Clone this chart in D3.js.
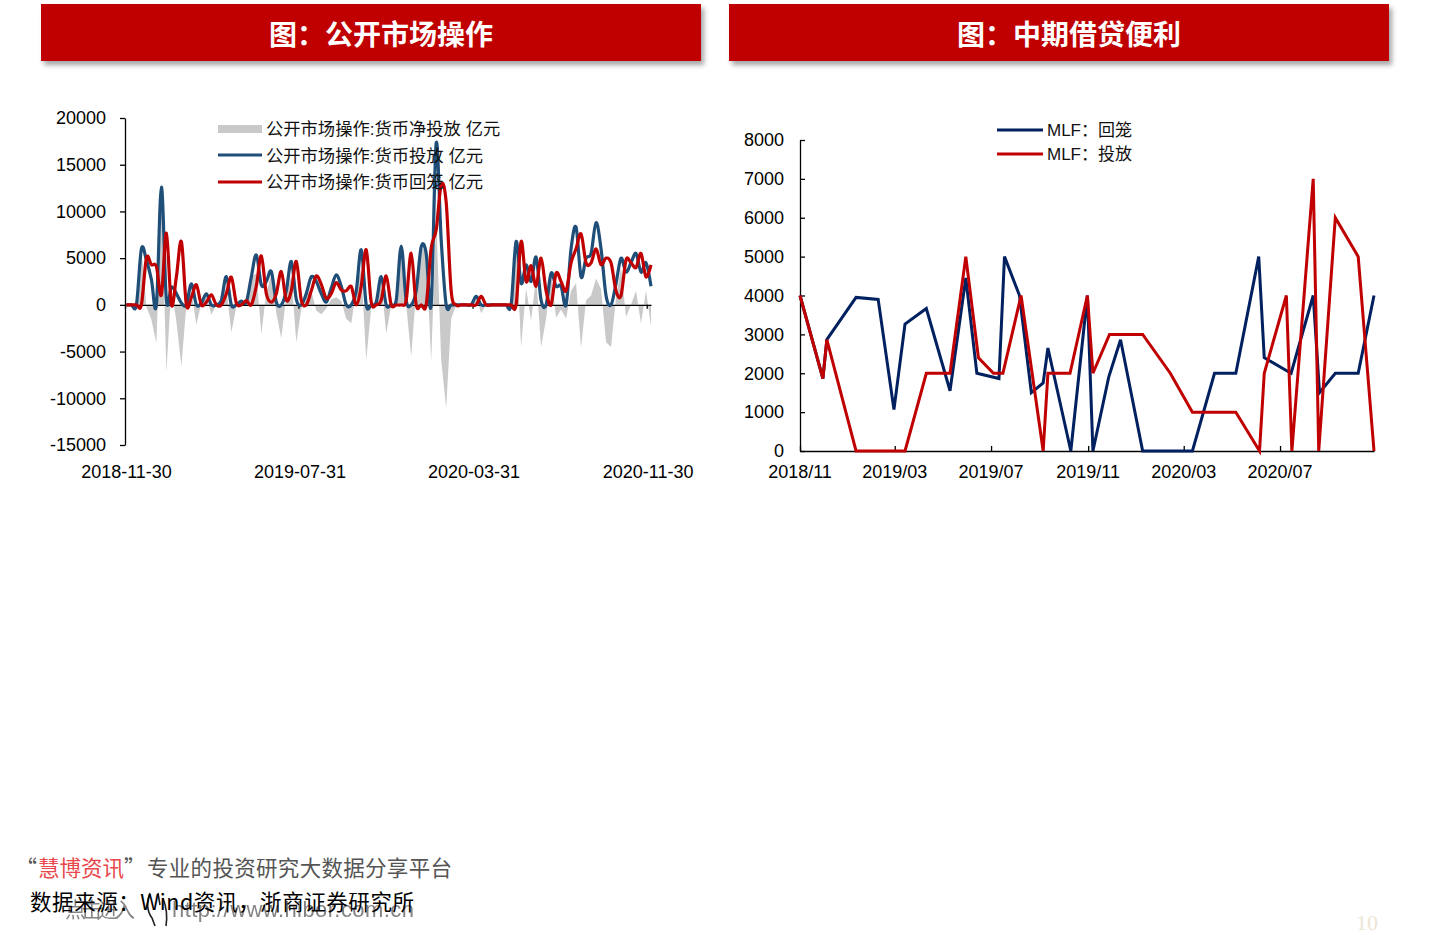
<!DOCTYPE html>
<html><head><meta charset="utf-8">
<script src="https://cdn.jsdelivr.net/npm/d3@7"></script>
<style>
html,body{margin:0;padding:0;background:#fff;}
svg{display:block;}
</style></head><body>
<svg id="c" width="1440" height="935"></svg>
<script>
// ================= DATA =================
// Left chart: weekly open market operations (亿元), weeks starting 2018-12-02
const omoFirstWeek = "2018-12-02";
const omoLastWeekEnd = "2020-12-07";
const omoInjection = [
  0,0,0,6000,4800,2700,0,12600,500,1900,
  1200,200,0,2250,0,200,1180,0,0,500,
  3030,0,0,400,300,3000,5350,2140,2500,3570,
  300,0,1500,4640,600,0,1200,3000,2500,1200,
  300,1800,3210,2000,0,0,1500,5890,0,0,
  300,3030,0,0,500,6300,500,0,1500,6200,
  5500,0,17300,7000,0,0,0,0,0,0,
  900,0,0,0,0,0,0,0,6780,2300,
  4280,2500,5100,500,0,3390,2000,2000,0,6000,
  8300,3000,5000,5500,8800,6000,1000,0,2300,5000,
  3500,4500,5500,3500,4500,2000];
const omoWithdrawal = [
  0,0,0,0,5000,4300,4100,1070,7670,0,
  3000,6780,0,800,2140,0,300,1070,0,0,
  1200,2960,200,0,460,0,2000,5245,1200,300,
  1200,3570,500,1500,4640,500,0,1500,3100,2200,
  700,1200,2390,1600,1500,1960,0,2000,5890,300,
  0,500,3100,0,0,0,500,5530,0,0,
  0,6070,8000,12840,11000,1500,0,0,0,0,
  0,900,0,0,0,0,0,0,0,6780,
  2500,4200,2000,5000,1500,0,3390,2500,1500,4500,
  6000,7600,4500,4500,6000,4300,5000,4500,1500,1000,
  4800,4500,4000,5500,3000,4280];
const omoNet = [
  0,0,0,6000,-200,-1600,-4100,11530,-7170,1900,
  -1800,-6580,0,1450,-2140,200,880,-1070,0,500,
  1830,-2960,-200,400,-160,3000,3350,-3105,1300,3270,
  -900,-3570,1000,3140,-4040,-500,1200,1500,-600,-1000,
  -400,600,820,400,-1500,-1960,1500,3890,-5890,-300,
  300,2530,-3100,0,500,6300,0,-5530,1500,6200,
  5500,-6070,9300,-5840,-11000,-1500,0,0,0,0,
  900,-900,0,0,0,0,0,0,6780,-4480,
  1780,-1700,3100,-4500,-1500,3390,-1390,-500,-1500,1500,
  2300,-4600,500,1000,2800,1700,-4000,-4500,800,4000,
  -1300,0,1500,-2000,1500,-2280];
const omoXTicks = ["2018-11-30","2019-07-31","2020-03-31","2020-11-30"];
const omoYTicks = [-15000,-10000,-5000,0,5000,10000,15000,20000];
const omoLegend = ["公开市场操作:货币净投放 亿元","公开市场操作:货币投放 亿元","公开市场操作:货币回笼 亿元"];

// Right chart: MLF (亿元)
const mlfWithdrawDates = ["2018-11-01","2018-11-30","2018-12-05","2019-01-11","2019-02-08","2019-02-28","2019-03-14","2019-04-10","2019-05-10","2019-05-30","2019-06-13","2019-07-11","2019-07-18","2019-08-06","2019-08-21","2019-09-05","2019-09-11","2019-10-10","2019-10-31","2019-11-07","2019-11-27","2019-12-12","2020-01-09","2020-03-12","2020-04-09","2020-05-06","2020-06-04","2020-06-11","2020-07-15","2020-08-12","2020-08-20","2020-09-09","2020-10-08","2020-10-28"];
const mlfWithdrawValues = [4000,1865,2865,3950,3900,1065,3265,3665,1550,4450,2000,1865,5000,4000,1500,1750,2650,0,4000,0,1900,2860,0,0,2000,2000,5000,2400,2000,4000,1500,2000,2000,4000];
const mlfInjectDates = ["2018-11-01","2018-11-30","2018-12-05","2019-01-11","2019-03-14","2019-04-10","2019-05-10","2019-05-30","2019-06-15","2019-07-04","2019-07-16","2019-08-08","2019-09-05","2019-09-11","2019-10-09","2019-10-31","2019-11-07","2019-11-28","2020-01-09","2020-02-13","2020-03-12","2020-05-06","2020-06-05","2020-06-11","2020-07-09","2020-07-16","2020-08-12","2020-08-19","2020-09-09","2020-10-08","2020-10-28"];
const mlfInjectValues = [4000,1865,2865,0,0,2000,2000,5000,2400,2000,2000,4000,0,2000,2000,4000,2000,3000,3000,2000,1000,1000,0,2000,4000,0,7000,0,6000,5000,0];
const mlfXTicks = ["2018-11-01","2019-03-01","2019-07-01","2019-11-01","2020-03-01","2020-07-01"];
const mlfXTickLabels = ["2018/11","2019/03","2019/07","2019/11","2020/03","2020/07"];
const mlfYTicks = [0,1000,2000,3000,4000,5000,6000,7000,8000];
const mlfLegend = ["MLF：回笼","MLF：投放"];

const titles = ["图：公开市场操作","图：中期借贷便利"];

// ================= DRAW =================
const parse = d3.timeParse("%Y-%m-%d");
const svg = d3.select("#c");
const NUM = "'Liberation Sans', Arial, sans-serif";
const CJK = "'Liberation Sans','Noto Sans CJK SC', sans-serif";
const CJKONLY = "'Noto Sans CJK SC', sans-serif";
const BLUE = "#1F4E79", NAVY = "#002060", RED = "#C00000", GRAY = "#C9C9C9";

const defs = svg.append("defs");
const f = defs.append("filter").attr("id","sh").attr("x","-5%").attr("y","-20%").attr("width","112%").attr("height","160%");
f.append("feDropShadow").attr("dx",3).attr("dy",4).attr("stdDeviation",2.5).attr("flood-color","#000").attr("flood-opacity",0.35);

// headers
[[41,titles[0]],[729,titles[1]]].forEach(([x,t])=>{
  svg.append("rect").attr("x",x).attr("y",4).attr("width",660).attr("height",57)
    .attr("fill",RED).attr("filter","url(#sh)");
  svg.append("text").attr("x",x+340).attr("y",33).attr("text-anchor","middle")
    .attr("dominant-baseline","central").attr("fill","#fff")
    .attr("font-family",CJKONLY).attr("font-weight",700)
    .attr("font-size",28).text(t);
});

// ---------- Left chart ----------
const weeks = d3.timeDay.range(parse(omoFirstWeek), parse(omoLastWeekEnd), 7);
const xL = d3.scaleTime().domain([parse("2018-11-30"), parse("2020-12-06")]).range([125, 651]);
const yL = d3.scaleLinear().domain([-15000, 20000]).range([445, 118]);
const gL = svg.append("g");

const netData = weeks.map((d,i)=>({d, v: omoNet[i]}));
gL.append("path").datum(netData)
  .attr("fill", GRAY)
  .attr("d", d3.area().x(p=>xL(p.d)).y0(yL(0)).y1(p=>yL(p.v)));

// y axis
const yAxL = gL.append("g").attr("transform","translate(125,0)")
  .call(d3.axisLeft(yL).tickValues(omoYTicks).tickSize(5).tickSizeOuter(0).tickPadding(14).tickFormat(d=>String(d)));
yAxL.selectAll("path,line").attr("stroke","#000").attr("stroke-width",1.3);
yAxL.selectAll("text").attr("font-family",NUM).attr("font-size",18).attr("fill","#000");

// x axis line at zero
const xAxL = gL.append("g").attr("transform",`translate(0,${yL(0)})`)
  .call(d3.axisBottom(xL).tickValues(omoXTicks.map(parse)).tickSize(4).tickSizeOuter(0).tickFormat(""));
xAxL.selectAll("path,line").attr("stroke","#000").attr("stroke-width",1.3);
gL.selectAll(".xlab").data(omoXTicks).join("text")
  .attr("x",d=>xL(parse(d))+1.5).attr("y",478).attr("text-anchor","middle")
  .attr("font-family",NUM).attr("font-size",18).attr("fill","#000").text(d=>d);

const smooth = d3.line().curve(d3.curveCardinal.tension(0)).x(p=>xL(p.d)).y(p=>yL(p.v));
gL.append("path").datum(weeks.map((d,i)=>({d,v:omoInjection[i]})))
  .attr("fill","none").attr("stroke",BLUE).attr("stroke-width",3.2).attr("d",smooth);
gL.append("path").datum(weeks.map((d,i)=>({d,v:omoWithdrawal[i]})))
  .attr("fill","none").attr("stroke",RED).attr("stroke-width",3.2).attr("d",smooth);

// legend
const legL = gL.append("g");
legL.append("rect").attr("x",218).attr("y",125).attr("width",44).attr("height",8).attr("fill",GRAY);
legL.append("line").attr("x1",218).attr("x2",262).attr("y1",155).attr("y2",155).attr("stroke",BLUE).attr("stroke-width",3);
legL.append("line").attr("x1",218).attr("x2",262).attr("y1",182).attr("y2",182).attr("stroke",RED).attr("stroke-width",3);
legL.selectAll("text").data(omoLegend).join("text")
  .attr("x",266).attr("y",(d,i)=>129+i*26.5).attr("dominant-baseline","central")
  .attr("font-family",CJK).attr("font-size",17.3).attr("fill","#111").text(d=>d);

// ---------- Right chart ----------
const xR = d3.scaleTime().domain([parse("2018-11-01"), parse("2020-10-28")]).range([800, 1374]);
const yR = d3.scaleLinear().domain([0, 8000]).range([451, 140]);
const gR = svg.append("g");

const yAxR = gR.append("g").attr("transform","translate(800,0)")
  .call(d3.axisLeft(yR).tickValues(mlfYTicks).tickSize(-5).tickSizeOuter(0).tickPadding(16).tickFormat(d=>String(d)));
yAxR.selectAll("path,line").attr("stroke","#000").attr("stroke-width",1.3);
yAxR.selectAll("text").attr("font-family",NUM).attr("font-size",18).attr("fill","#000");

const xAxR = gR.append("g").attr("transform",`translate(0,${yR(0)})`)
  .call(d3.axisBottom(xR).tickValues(mlfXTicks.map(parse)).tickSize(-5).tickSizeOuter(0).tickFormat(""));
xAxR.selectAll("path,line").attr("stroke","#000").attr("stroke-width",1.3);
gR.selectAll(".xlab").data(mlfXTicks).join("text")
  .attr("x",d=>xR(parse(d))).attr("y",478).attr("text-anchor","middle")
  .attr("font-family",NUM).attr("font-size",18).attr("fill","#000").text((d,i)=>mlfXTickLabels[i]);

const lineR = d3.line().x(p=>xR(p.d)).y(p=>yR(p.v));
gR.append("path").datum(mlfWithdrawDates.map((d,i)=>({d:parse(d),v:mlfWithdrawValues[i]})))
  .attr("fill","none").attr("stroke",NAVY).attr("stroke-width",3).attr("d",lineR);
gR.append("path").datum(mlfInjectDates.map((d,i)=>({d:parse(d),v:mlfInjectValues[i]})))
  .attr("fill","none").attr("stroke",RED).attr("stroke-width",3).attr("d",lineR);

const legR = gR.append("g");
[NAVY,RED].forEach((c,i)=>{
  legR.append("line").attr("x1",997).attr("x2",1043).attr("y1",130+i*24).attr("y2",130+i*24).attr("stroke",c).attr("stroke-width",3);
});
legR.selectAll("text").data(mlfLegend).join("text")
  .attr("x",1047).attr("y",(d,i)=>130+i*24).attr("dominant-baseline","central")
  .attr("font-family",CJK).attr("font-size",17).attr("fill","#111").text(d=>d);

// ---------- Footer ----------
const fstyle = s => s.attr("font-family",CJKONLY).attr("font-size",21.5);
fstyle(svg.append("text").attr("x",37).attr("y",876).attr("text-anchor","end").attr("fill","#555").text("“"));
fstyle(svg.append("text").attr("x",38).attr("y",876).attr("fill","#E8474C").attr("textLength",86).text("慧博资讯"));
fstyle(svg.append("text").attr("x",124).attr("y",876).attr("fill","#555").text("”"));
fstyle(svg.append("text").attr("x",147).attr("y",876).attr("fill","#555").attr("textLength",305).text("专业的投资研究大数据分享平台"));

// watermark
svg.append("text").attr("x",65).attr("y",917).attr("font-family",CJKONLY)
  .attr("font-size",21).attr("fill","#666").attr("opacity",0.8).attr("textLength",70).text("点击进入");
svg.append("text").attr("x",172).attr("y",917).attr("font-family",NUM)
  .attr("font-size",22).attr("fill","#666").attr("opacity",0.8).attr("textLength",242).text("http://www.hibor.com.cn");
svg.append("path").attr("d","M150 893 C147 900 146 910 152 918 L155 926 M158 893 L160 905 M163 898 C166 906 168 914 166 926")
  .attr("fill","none").attr("stroke","#222").attr("stroke-width",1.6);

svg.append("text").attr("x",30).attr("y",910)
  .attr("font-family",CJKONLY).attr("font-size",21.5).attr("fill","#000").attr("textLength",384)
  .text("数据来源：Wind资讯，浙商证券研究所");

svg.append("text").attr("x",1356).attr("y",930).attr("font-family","'Liberation Serif', serif")
  .attr("font-size",22).attr("fill","#EDE6D6").text("10");
</script>
</body></html>
